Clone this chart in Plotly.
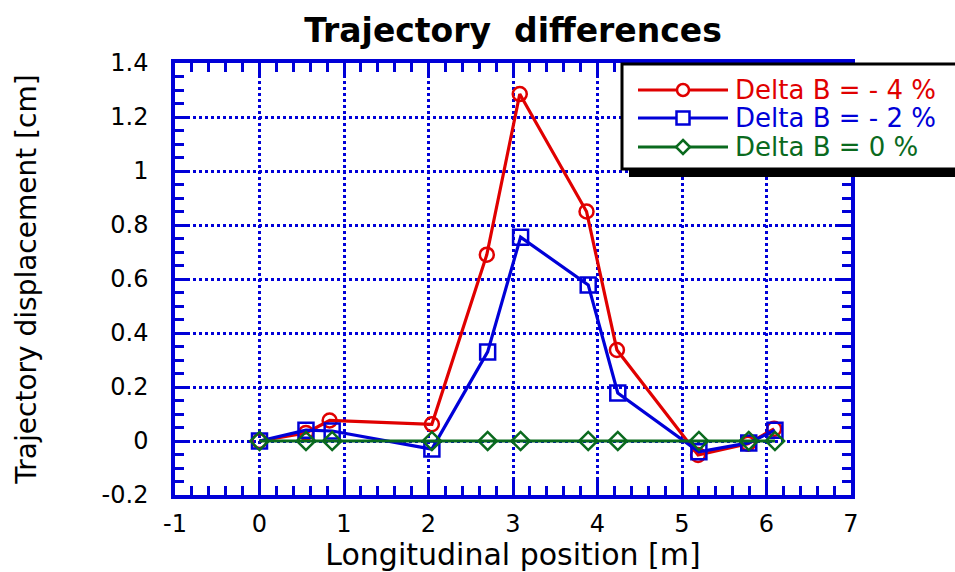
import plotly.graph_objects as go

# Data
x_pos = [0.0, 0.55, 0.86, 2.04, 2.70, 3.09, 3.89, 4.24, 5.20, 5.79, 6.10]
red_x = [0.0, 0.55, 0.83, 2.04, 2.69, 3.08, 3.87, 4.23, 5.19, 5.78, 6.09]
red_y = [0.0, 0.03, 0.076, 0.062, 0.69, 1.285, 0.85, 0.337, -0.052, -0.01, 0.045]
blue_y = [0.0, 0.04, 0.037, -0.03, 0.33, 0.755, 0.578, 0.178, -0.04, -0.007, 0.04]
green_y = [0.0] * 11
names = ["Delta B = - 4 %", "Delta B = - 2 %", "Delta B = 0 %"]
colors = ["#e00000", "#0000d8", "#0a6a1e"]
x_ticks = [-1, 0, 1, 2, 3, 4, 5, 6, 7]
x_tick_text = ["-1", "0", "1", "2", "3", "4", "5", "6", "7"]
y_ticks = [-0.2, 0, 0.2, 0.4, 0.6, 0.8, 1.0, 1.2, 1.4]
y_tick_text = ["-0.2", "0", "0.2", "0.4", "0.6", "0.8", "1", "1.2", "1.4"]

FONT = "DejaVu Sans, Liberation Sans, Arial, sans-serif"
AX = "#0000d8"

fig = go.Figure()
fig.add_trace(go.Scatter(x=red_x, y=red_y, mode="lines+markers", name=names[0],
                         line=dict(color=colors[0], width=3.2),
                         marker=dict(symbol="circle-open", size=14, line=dict(width=2.5, color=colors[0]))))
fig.add_trace(go.Scatter(x=x_pos, y=blue_y, mode="lines+markers", name=names[1],
                         line=dict(color=colors[1], width=3.2),
                         marker=dict(symbol="square-open", size=15, line=dict(width=2.5, color=colors[1]))))
fig.add_trace(go.Scatter(x=x_pos, y=green_y, mode="lines+markers", name=names[2],
                         line=dict(color=colors[2], width=3.2),
                         marker=dict(symbol="diamond-open", size=14, line=dict(width=2.5, color=colors[2]))))

# plot area in px
L, R, T, B = 175, 851, 63, 495
W, H = 955, 572
def px(xp): return (xp - L) / (R - L)
def py(yp): return (B - yp) / (B - T)

axis_common = dict(showline=True, linecolor=AX, linewidth=3.5, mirror="ticks",
                   ticks="inside", ticklen=15, tickwidth=3, tickcolor=AX,
                   showgrid=True, gridcolor=AX, griddash="dot", gridwidth=2.5,
                   zeroline=False, tickfont=dict(family=FONT, size=24, color="black"))
fig.update_xaxes(range=[-1, 7], tickvals=x_ticks, ticktext=x_tick_text, ticklabelstandoff=4,
                 minor=dict(ticks="inside", ticklen=9, tickwidth=3, tickcolor=AX, dtick=0.2, tick0=0, showgrid=False),
                 title=dict(text="Longitudinal position [m]", font=dict(family=FONT, size=30, color="black"), standoff=2),
                 **axis_common)
fig.update_yaxes(range=[-0.2, 1.4], tickvals=y_ticks, ticktext=y_tick_text, ticklabelstandoff=18,
                 minor=dict(ticks="inside", ticklen=9, tickwidth=3, tickcolor=AX, dtick=0.05, tick0=0, showgrid=False),
                 title=dict(text="Trajectory displacement [cm]", font=dict(family=FONT, size=28, color="black"), standoff=58),
                 **axis_common)

shapes = []
# legend shadow and box
shapes.append(dict(type="rect", xref="paper", yref="paper", x0=px(629), x1=px(962), y0=py(177), y1=py(72),
                   fillcolor="black", line=dict(width=0), layer="above"))
shapes.append(dict(type="rect", xref="paper", yref="paper", x0=px(622), x1=px(958), y0=py(169), y1=py(64),
                   fillcolor="white", line=dict(color="black", width=3), layer="above"))
annotations = []
rows = [90, 118, 147]
for i, (nm, c, yy) in enumerate(zip(names, colors, rows)):
    shapes.append(dict(type="line", xref="paper", yref="paper", x0=px(638), x1=px(728), y0=py(yy), y1=py(yy),
                       line=dict(color=c, width=3), layer="above"))
    cx = 683
    if i == 0:
        shapes.append(dict(type="circle", xref="paper", yref="paper", x0=px(cx - 6), x1=px(cx + 6),
                           y0=py(yy + 6), y1=py(yy - 6), fillcolor="white", line=dict(color=c, width=2.5), layer="above"))
    elif i == 1:
        shapes.append(dict(type="rect", xref="paper", yref="paper", x0=px(cx - 6.5), x1=px(cx + 6.5),
                           y0=py(yy + 6.5), y1=py(yy - 6.5), fillcolor="white", line=dict(color=c, width=2.5), layer="above"))
    else:
        path = "M {a},{b} L {c},{d} L {a},{e} L {f},{d} Z".format(
            a=px(cx), b=py(yy - 7), c=px(cx + 7), d=py(yy), e=py(yy + 7), f=px(cx - 7))
        shapes.append(dict(type="path", xref="paper", yref="paper", path=path, fillcolor="white",
                           line=dict(color=c, width=2.5), layer="above"))
    annotations.append(dict(xref="paper", yref="paper", x=px(733), y=py(yy), xanchor="left", yanchor="middle",
                            text=nm, showarrow=False, font=dict(family=FONT, size=26, color=c)))

fig.update_layout(
    width=W, height=H,
    margin=dict(l=L, r=W - R, t=T, b=H - B),
    paper_bgcolor="white", plot_bgcolor="white",
    showlegend=False,
    title=dict(text="<b>Trajectory\u00a0 differences</b>", x=(L + R) / 2 / W, xanchor="center",
               y=1 - 30 / H, yanchor="middle", font=dict(family=FONT, size=33, color="black")),
    shapes=shapes, annotations=annotations,
)
fig.write_html("out.html")
